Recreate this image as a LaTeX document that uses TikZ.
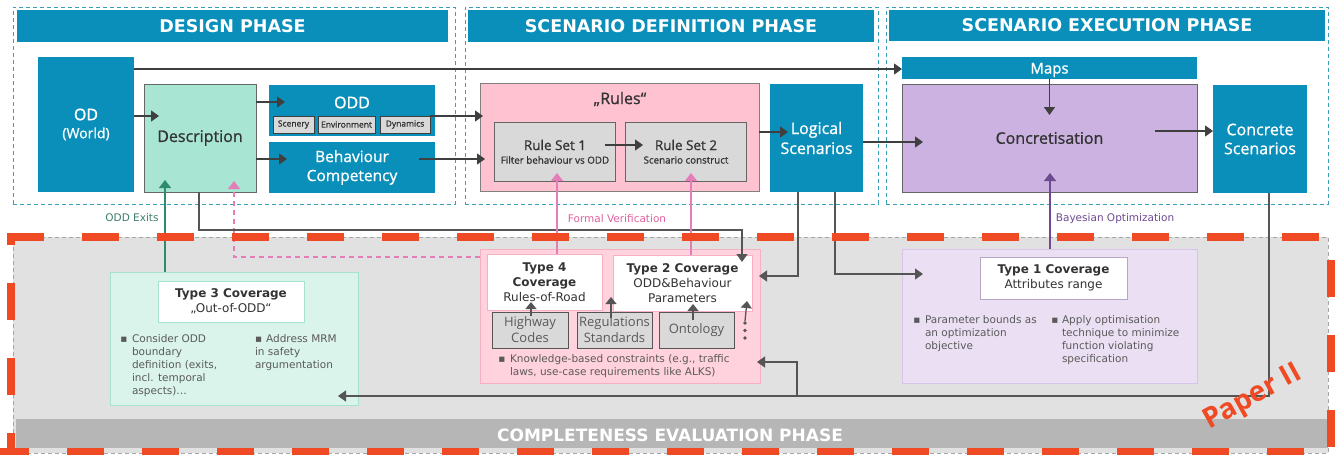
\documentclass[tikz,border=0pt]{standalone}
\usepackage{fontspec}
\setmainfont{Open Sans}[FakeBold=1.0]
\newfontfamily\pf{Open Sans}
\newfontfamily\vf{DejaVu Sans}
\usetikzlibrary{arrows.meta}
\definecolor{blueC}{HTML}{0A8FBA}
\definecolor{dashC}{HTML}{3AA0B8}
\definecolor{mintC}{HTML}{A9E5D3}
\definecolor{rulesC}{HTML}{FFC2D1}
\definecolor{lavC}{HTML}{CCB2E1}
\definecolor{boxgC}{HTML}{D9D9D9}
\definecolor{lineC}{HTML}{3F3F3F}
\definecolor{lineB}{HTML}{555555}
\definecolor{txtC}{HTML}{333333}
\definecolor{txtG}{HTML}{5A5A5A}
\definecolor{bgC}{HTML}{E1E1E1}
\definecolor{bandC}{HTML}{B6B6B6}
\definecolor{t3fill}{HTML}{DAF4EC}
\definecolor{t3line}{HTML}{A6E2CF}
\definecolor{pcfill}{HTML}{FFD2DD}
\definecolor{pcline}{HTML}{F6AFC3}
\definecolor{t1fill}{HTML}{EBE0F3}
\definecolor{t1line}{HTML}{D6C5E9}
\definecolor{redC}{HTML}{F04A24}
\definecolor{pinkL}{HTML}{E57DB8}
\definecolor{pinkT}{HTML}{E0609E}
\definecolor{greenL}{HTML}{2E8B6B}
\definecolor{greenT}{HTML}{3D7F6E}
\definecolor{purpL}{HTML}{6E4A90}
\newcommand\fsz[2]{\fontsize{#1}{#2}\selectfont}
\newcommand\rect[7]{\node[#6,minimum width={(#4)-(#2)},minimum height={(#5)-(#3)},anchor=north west] (#1) at (#2,#3) {#7};}
\tikzset{
 every node/.style={inner sep=0pt,outer sep=0pt},
 phase/.style={draw=dashC,line width=1pt,dash pattern=on 4pt off 3pt},
 header/.style={fill=blueC,text=white,font=\vf\bfseries\fsz{17.5}{20}},
 bluebox/.style={fill=blueC,text=white,align=center},
 subbox/.style={fill=boxgC,draw=lineC,line width=0.8pt,font=\fsz{8.5}{10},text=txtC},
 rsbox/.style={fill=boxgC,draw=lineC!80,line width=0.8pt},
 rst/.style={font=\fsz{13.5}{16},text=txtC},
 rss/.style={font=\fsz{9.8}{12},text=txtC},
 titletxt/.style={font=\vf\fsz{12}{15},text=txtC,align=center},
 kbox/.style={fill=boxgC,draw=lineB,line width=0.8pt,font=\pf\fsz{13}{16},text=txtG,align=center},
 btxt/.style={font=\vf\fsz{10.5}{13},text=txtG,align=left},
 bul/.style={font=\vf\fsz{10.5}{12},text=txtG},
 arr/.style={draw=lineC,line width=1.3pt,-{Triangle[length=8pt,width=11pt]}},
 arrg/.style={draw=lineB,line width=1.3pt,-{Triangle[length=8pt,width=11pt]}},
 arrs/.style={draw=lineB,line width=1.3pt,-{Triangle[length=7pt,width=11pt]}},
 arrgreen/.style={draw=greenL,line width=1.3pt,-{Triangle[length=8pt,width=12pt]}},
 arrpink/.style={draw=pinkL,line width=1.1pt,-{Triangle[length=8pt,width=12pt]}},
 arrpurp/.style={draw=purpL,line width=1.2pt,-{Triangle[length=8pt,width=12pt]}},
 redline/.style={draw=redC,line width=8pt,dash pattern=on 37pt off 38pt}
}
\begin{document}
\begin{tikzpicture}[x=1pt,y=-1pt]
\useasboundingbox (0,0) rectangle (1336,455);
\fill[white] (0,0) rectangle (1336,455);
% completeness region
\rect{ce}{13}{237}{1328}{453}{fill=bgC,draw=gray!70,line width=0.8pt,dash pattern=on 4pt off 3pt}{}
\rect{band}{16}{419}{1328}{448}{fill=bandC}{}
\node[text=white,font=\vf\bfseries\fsz{17}{19}] (bandt) at (670,435) {COMPLETENESS EVALUATION PHASE};
% phases
\rect{dp}{13}{7}{455}{204}{phase}{}
\rect{dph}{17}{10}{448}{42}{header}{DESIGN PHASE}
\rect{sdp}{465}{7}{878}{204}{phase}{}
\rect{sdph}{468}{10}{874}{42}{header}{SCENARIO DEFINITION PHASE}
\rect{sep}{886}{7}{1328}{204}{phase}{}
\rect{seph}{889}{10}{1325}{41}{header}{SCENARIO EXECUTION PHASE}
% design
\rect{od}{38}{57}{134}{192}{bluebox,font=\fsz{14}{18}}{{\fsz{16}{18}OD}\\(World)}
\rect{desc}{144}{84}{256}{192}{fill=mintC,draw=gray!80!black,line width=0.8pt,text=txtC,font=\fsz{16}{19}}{Description}
\rect{odd}{269}{85}{435}{136}{fill=blueC}{}
\node[text=white,font=\fsz{16}{19}] (oddt) at (352,102.5) {ODD};
\rect{scen}{273}{116}{314}{133}{subbox}{Scenery}
\rect{env}{318}{116}{375}{133}{subbox}{Environment}
\rect{dyn}{380}{116}{430}{133}{subbox}{Dynamics}
\rect{beh}{269}{142}{435}{193}{bluebox,font=\fsz{15.5}{19}}{Behaviour\\Competency}
% scenario definition
\rect{rules}{480}{83}{759}{191}{fill=rulesC,draw=gray,line width=0.8pt}{}
\node[text=txtC,font=\fsz{16}{19}] (rulest) at (620,99) {„Rules“};
\rect{rs1}{494}{122}{615}{181}{rsbox}{}
\rect{rs2}{625}{122}{746}{181}{rsbox}{}
\node[rst] (rs1a) at (555,145) {Rule Set 1};
\node[rss] (rs1b) at (555,160) {Filter behaviour vs ODD};
\node[rst] (rs2a) at (686,145) {Rule Set 2};
\node[rss] (rs2b) at (686,160) {Scenario construct};
\rect{logi}{770}{84}{863}{192}{bluebox,font=\fsz{16}{20}}{Logical\\Scenarios}
% execution
\rect{maps}{902}{57}{1197}{79}{fill=blueC}{}
\node[text=white,font=\fsz{15}{18}] (mapst) at (1049.5,70) {Maps};
\rect{conc}{902}{84}{1197}{192}{fill=lavC,draw=gray!80!black,line width=0.8pt,text=txtC,font=\fsz{16}{19}}{Concretisation}
\rect{concr}{1213}{85}{1307}{193}{bluebox,font=\fsz{16}{19}}{Concrete\\Scenarios}
% type 3
\rect{t3}{110}{272}{358}{405}{fill=t3fill,draw=t3line,line width=1pt}{}
\rect{t3t}{158}{281}{304}{322}{fill=white,draw=t3line,line width=1pt,titletxt}{\textbf{Type 3 Coverage}\\„Out-of-ODD“}
\node[bul] (t3b1b) at (124,340) {▪};
\node[btxt,anchor=north west] (t3b1) at (132,335) {Consider ODD\\boundary\\definition (exits,\\incl. temporal\\aspects)…};
\node[btxt,anchor=north west] (t3b2) at (255,335) {▪\hspace{4pt}Address MRM\\in safety\\argumentation};
% labels
\node[font=\vf\fsz{10.5}{12},text=greenT] (oddx) at (132,218) {ODD Exits};
\node[font=\vf\fsz{10.5}{12},text=pinkT] (fv) at (617,219) {Formal Verification};
\node[font=\vf\fsz{10.5}{12},text=purpL] (bo) at (1115,219) {Bayesian Optimization};
% type 2/4
\rect{pc}{480}{249}{760}{383}{fill=pcfill,draw=pcline,line width=1pt}{}
\rect{t4}{487}{254}{602}{310}{fill=white,draw=pcline,line width=0.6pt,titletxt}{\textbf{Type 4}\\\textbf{Coverage}\\Rules-of-Road}
\rect{t2}{613}{255}{752}{311}{fill=white,draw=pcline,line width=0.6pt,titletxt}{\textbf{Type 2 Coverage}\\ODD\&Behaviour\\Parameters}
\rect{hw}{492}{312}{568}{348}{kbox}{Highway\\Codes}
\rect{reg}{577}{312}{652}{348}{kbox}{Regulations\\Standards}
\rect{ont}{659}{312}{734}{348}{kbox}{Ontology}
\foreach \yy in {323,330.5,338} \fill[lineB] (745,\yy) circle (1.8);
\coordinate (dots) at (745,321);
\node[bul] (kbb) at (502,360) {▪};
\node[btxt,anchor=north west] (kb) at (510,355) {Knowledge-based constraints (e.g., traffic\\laws, use-case requirements like ALKS)};
% type 1
\rect{t1}{902}{249}{1197}{383}{fill=t1fill,draw=t1line,line width=1pt}{}
\rect{t1t}{980}{257}{1127}{299}{fill=white,draw=t1line!85!black,line width=1pt,titletxt}{\textbf{Type 1 Coverage}\\Attributes range}
\node[bul] (t1b1b) at (917,321) {▪};
\node[btxt,anchor=north west] (t1b1) at (925,316) {Parameter bounds as\\an optimization\\objective};
\node[bul] (t1b2b) at (1055,321) {▪};
\node[btxt,anchor=north west] (t1b2) at (1062,316) {Apply optimisation\\technique to minimize\\function violating\\specification};
% connectors top
\draw[arr,shorten >=-15pt] (od.east |- 0,116) -- (desc.west |- 0,116);
\draw[arr] (od.east |- 0,69) -- (maps.west |- 0,69);
\draw[arr,shorten >=-16pt] (desc.east |- 0,102) -- (odd.west |- 0,102);
\draw[arr,shorten >=-18pt] (desc.east |- 0,159) -- (beh.west |- 0,159);
\draw[arr,shorten >=-3pt] (dyn.east |- 0,116) -- (rules.west |- 0,116);
\draw[arr,shorten <=-16pt,shorten >=-5pt] (beh.east |- 0,159) -- (rules.west |- 0,159);
\draw[arr,shorten <=-10pt,shorten >=-18pt] (rs1.east |- 0,145) -- (rs2.west |- 0,145);
\draw[arr,shorten >=-18pt] (rules.east |- 0,132) -- (logi.west |- 0,132);
\draw[arr,shorten >=-21pt] (logi.east |- 0,142) -- (conc.west |- 0,142);
\draw[arr,shorten >=-31pt] (maps.south) -- (conc.north);
\draw[arr,shorten <=-42pt] (conc.east |- 0,131) -- (concr.west |- 0,131);
% connectors bottom
\draw[arrgreen,shorten >=-12pt] (165,0 |- t3.north) -- (165,0 |- desc.south);
\draw[arrpink,dash pattern=on 5pt off 4pt,shorten >=-11pt] (pc.west |- 0,257) -- (234,257) -- (234,0 |- desc.south);
\draw[arrg,shorten >=-7pt] (199,0 |- desc.south) -- (199,230) -- (742,230) -- (742,0 |- t2.north);
\draw[arrpink,shorten >=-8pt] (557,0 |- t4.north) -- (557,0 |- rs1.south);
\draw[arrpink,shorten >=-8pt] (691,0 |- t2.north) -- (691,0 |- rs2.south);
\draw[arrg,shorten >=7pt] (798,0 |- logi.south) -- (798,276) -- (t2.east |- 0,276);
\draw[arrg,shorten >=-21pt] (835,0 |- logi.south) -- (835,274) -- (t1.west |- 0,274);
\draw[arrpurp,shorten >=-19pt] (1050,0 |- t1.north) -- (1050,0 |- conc.south);
\draw[arrg,shorten >=-20pt] (1269,0 |- concr.south) -- (1269,396) -- (t3.east |- 0,396);
\coordinate (jn) at (797,396);
\draw[arrg,shorten >=-3pt] (jn) -- (797,362) -- (pc.east |- 0,362);
\draw[arrs,shorten <=-4pt,shorten >=-8pt] (531,0 |- hw.north) -- (531,0 |- t4.south);
\draw[arrs,shorten <=-6pt,shorten >=-14pt] (611,0 |- reg.north) -- (611,0 |- t2.south);
\draw[arrs,shorten <=-8pt,shorten >=-7pt] (693,0 |- ont.north) -- (693,0 |- t2.south);
\draw[arrs,shorten >=-10pt] (dots) -- (746,0 |- t2.south);
% red dashed frame (Paper II)
\draw[redline] (7,237) -- (1336,237);
\draw[redline,dash phase=8pt] (0,452) -- (1336,452);
\draw[redline,dash phase=25pt] (11,233) -- (11,455);
\draw[redline,dash phase=48pt] (1331,233) -- (1331,455);
\node[font=\pf\bfseries\fsz{28}{30},text=redC,rotate=29] (paper) at (1253,398) {Paper II};
\end{tikzpicture}
\end{document}
